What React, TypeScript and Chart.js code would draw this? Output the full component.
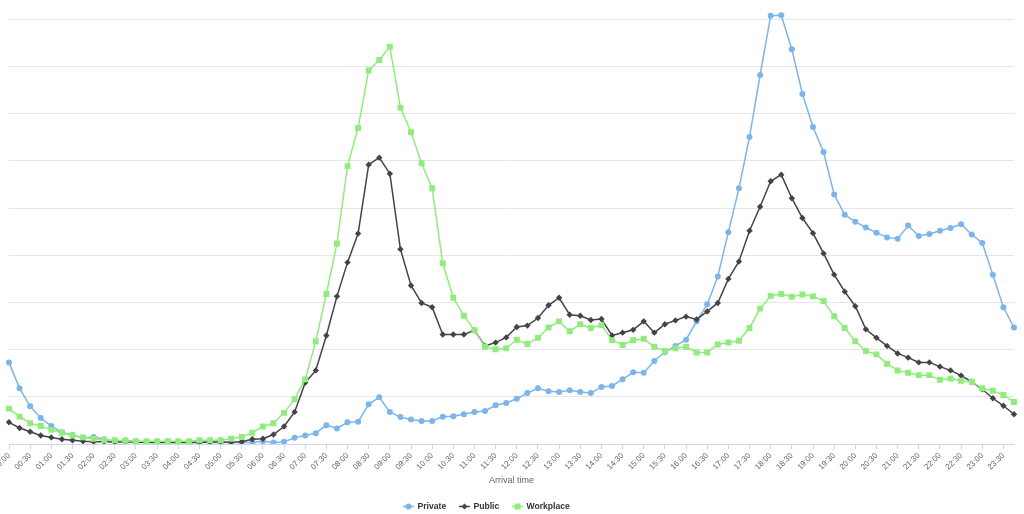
import React, { useEffect, useRef } from 'react';
import { Chart, registerables } from 'chart.js';

Chart.register(...registerables);

const categories = [
  '00:00', '00:15', '00:30', '00:45', '01:00', '01:15', '01:30', '01:45',
  '02:00', '02:15', '02:30', '02:45', '03:00', '03:15', '03:30', '03:45',
  '04:00', '04:15', '04:30', '04:45', '05:00', '05:15', '05:30', '05:45',
  '06:00', '06:15', '06:30', '06:45', '07:00', '07:15', '07:30', '07:45',
  '08:00', '08:15', '08:30', '08:45', '09:00', '09:15', '09:30', '09:45',
  '10:00', '10:15', '10:30', '10:45', '11:00', '11:15', '11:30', '11:45',
  '12:00', '12:15', '12:30', '12:45', '13:00', '13:15', '13:30', '13:45',
  '14:00', '14:15', '14:30', '14:45', '15:00', '15:15', '15:30', '15:45',
  '16:00', '16:15', '16:30', '16:45', '17:00', '17:15', '17:30', '17:45',
  '18:00', '18:15', '18:30', '18:45', '19:00', '19:15', '19:30', '19:45',
  '20:00', '20:15', '20:30', '20:45', '21:00', '21:15', '21:30', '21:45',
  '22:00', '22:15', '22:30', '22:45', '23:00', '23:15', '23:30', '23:45',
];

const privateValues = [
  0.865, 0.59, 0.40, 0.275, 0.19, 0.125, 0.095, 0.065, 0.075, 0.05,
  0.03, 0.04, 0.025, 0.02, 0.02, 0.02, 0.02, 0.02, 0.02, 0.015,
  0.015, 0.015, 0.015, 0.015, 0.03, 0.015, 0.025, 0.065, 0.09, 0.115,
  0.20, 0.165, 0.23, 0.235, 0.42, 0.495, 0.34, 0.285, 0.26, 0.245,
  0.245, 0.29, 0.295, 0.315, 0.34, 0.35, 0.41, 0.435, 0.48, 0.54,
  0.59, 0.56, 0.55, 0.57, 0.55, 0.54, 0.605, 0.615, 0.685, 0.76,
  0.755, 0.88, 0.975, 1.04, 1.105, 1.30, 1.48, 1.775, 2.245, 2.71,
  3.255, 3.91, 4.54, 4.545, 4.185, 3.71, 3.36, 3.095, 2.645, 2.43,
  2.355, 2.295, 2.24, 2.19, 2.175, 2.315, 2.205, 2.225, 2.26, 2.29,
  2.33, 2.22, 2.13, 1.795, 1.45, 1.235,
];

const publicValues = [
  0.23, 0.17, 0.13, 0.09, 0.07, 0.05, 0.04, 0.03, 0.025, 0.025,
  0.02, 0.02, 0.02, 0.015, 0.015, 0.015, 0.015, 0.015, 0.015, 0.02,
  0.02, 0.02, 0.025, 0.05, 0.055, 0.10, 0.185, 0.34, 0.65, 0.78,
  1.15, 1.565, 1.925, 2.23, 2.96, 3.035, 2.865, 2.065, 1.68, 1.495,
  1.45, 1.16, 1.16, 1.16, 1.205, 1.04, 1.075, 1.13, 1.24, 1.255,
  1.335, 1.47, 1.55, 1.37, 1.36, 1.315, 1.325, 1.15, 1.18, 1.21,
  1.30, 1.18, 1.27, 1.31, 1.35, 1.32, 1.405, 1.495, 1.75, 1.935,
  2.26, 2.515, 2.785, 2.855, 2.605, 2.395, 2.235, 2.02, 1.795, 1.615,
  1.46, 1.215, 1.125, 1.04, 0.96, 0.915, 0.865, 0.865, 0.82, 0.78,
  0.725, 0.66, 0.58, 0.485, 0.405, 0.315,
];

const workplaceValues = [
  0.375, 0.29, 0.22, 0.19, 0.15, 0.12, 0.09, 0.07, 0.055, 0.04,
  0.04, 0.035, 0.03, 0.03, 0.03, 0.03, 0.03, 0.03, 0.04, 0.04,
  0.04, 0.055, 0.075, 0.12, 0.185, 0.22, 0.33, 0.475, 0.685, 1.09,
  1.59, 2.125, 2.945, 3.35, 3.96, 4.07, 4.21, 3.565, 3.305, 2.975,
  2.71, 1.915, 1.55, 1.36, 1.205, 1.03, 1.005, 1.015, 1.105, 1.06,
  1.125, 1.235, 1.30, 1.195, 1.27, 1.23, 1.26, 1.10, 1.05, 1.10,
  1.115, 1.03, 0.985, 1.015, 1.03, 0.97, 0.97, 1.055, 1.075, 1.095,
  1.23, 1.435, 1.57, 1.59, 1.56, 1.585, 1.565, 1.515, 1.355, 1.23,
  1.09, 0.985, 0.95, 0.85, 0.78, 0.755, 0.73, 0.73, 0.68, 0.695,
  0.67, 0.66, 0.59, 0.565, 0.52, 0.445,
];

const seriesNames = ['Private', 'Public', 'Workplace'];
const seriesColors = ['#7cb5ec', '#434348', '#90ed7d'];
const seriesSymbols = ['circle', 'rectRot', 'rect'];
const axisTitle = 'Arrival time';
const yMin = 0;
const yMax = 4.6;
const yStep = 0.5;

const FONT = '"Liberation Sans", Arial, Helvetica, sans-serif';

function drawSymbol(ctx: CanvasRenderingContext2D, kind: string, x: number, y: number, color: string) {
  ctx.fillStyle = color;
  ctx.beginPath();
  if (kind === 'circle') {
    ctx.arc(x, y, 3, 0, Math.PI * 2);
  } else if (kind === 'rectRot') {
    ctx.moveTo(x - 3, y);
    ctx.lineTo(x, y - 3);
    ctx.lineTo(x + 3, y);
    ctx.lineTo(x, y + 3);
    ctx.closePath();
  } else {
    ctx.rect(x - 3, y - 3, 6, 6);
  }
  ctx.fill();
}

const legendPlugin = {
  id: 'hcLegend',
  afterDraw(chart: any) {
    const ctx: CanvasRenderingContext2D = chart.ctx;
    const y = 506.5;
    const xs = [403, 459, 512];
    ctx.save();
    ctx.font = `bold 8.6px ${FONT}`;
    ctx.textBaseline = 'middle';
    ctx.textAlign = 'left';
    seriesNames.forEach((name, i) => {
      const x = xs[i];
      ctx.strokeStyle = seriesColors[i];
      ctx.lineWidth = 1.5;
      ctx.beginPath();
      ctx.moveTo(x, y);
      ctx.lineTo(x + 11, y);
      ctx.stroke();
      drawSymbol(ctx, seriesSymbols[i], x + 5.5, y, seriesColors[i]);
      ctx.fillStyle = '#333333';
      ctx.fillText(name, x + 14.5, y + 0.5);
    });
    ctx.restore();
  },
};

export default function App() {
  const canvasRef = useRef<HTMLCanvasElement | null>(null);

  useEffect(() => {
    if (!canvasRef.current) return;
    const valuesList = [privateValues, publicValues, workplaceValues];
    const radii = [3, 3.2, 4.2];
    const chart = new Chart(canvasRef.current, {
      type: 'line',
      data: {
        labels: categories,
        datasets: seriesNames.map((name, i) => ({
          label: name,
          data: valuesList[i],
          borderColor: seriesColors[i],
          backgroundColor: seriesColors[i],
          borderWidth: 1.5,
          pointStyle: seriesSymbols[i] as any,
          pointRadius: radii[i],
          pointBackgroundColor: seriesColors[i],
          pointBorderColor: seriesColors[i],
          pointBorderWidth: 0,
          tension: 0,
          fill: false,
          order: 3 - i,
        })),
      },
      options: {
        responsive: false,
        animation: false,
        devicePixelRatio: 1,
        layout: { padding: { top: 10, left: 9, right: 10, bottom: 27 } },
        plugins: {
          legend: { display: false },
          tooltip: { enabled: false },
          title: { display: false },
        },
        scales: {
          x: {
            type: 'category',
            offset: false,
            grid: {
              display: true,
              drawOnChartArea: false,
              drawTicks: true,
              tickLength: 5,
              tickColor: (ctx: any) => (ctx.index % 2 === 0 ? '#ccd6eb' : 'rgba(0,0,0,0)'),
            },
            border: { display: true, color: '#ccd6eb', width: 1 },
            ticks: {
              autoSkip: false,
              minRotation: 45,
              maxRotation: 45,
              padding: 2,
              color: '#666666',
              font: { size: 8, family: FONT },
              callback: (_v: any, index: number) => (index % 2 === 0 ? categories[index] : ''),
            },
            title: {
              display: true,
              text: axisTitle,
              color: '#666666',
              font: { size: 9, family: FONT },
              padding: { top: 0, bottom: 1 },
            },
            afterFit: (scale: any) => {
              scale.height = 43;
              scale.paddingLeft = 0;
              scale.paddingRight = 0;
            },
          },
          y: {
            min: yMin,
            max: yMax,
            grid: {
              drawTicks: false,
              color: (ctx: any) => (ctx.tick && ctx.tick.value === 0 ? 'rgba(0,0,0,0)' : '#e6e6e6'),
              lineWidth: 1,
            },
            border: { display: false },
            ticks: { display: false, stepSize: yStep, includeBounds: false },
            afterFit: (scale: any) => {
              scale.width = 0;
            },
          },
        },
      },
      plugins: [legendPlugin],
    } as any);
    return () => chart.destroy();
  }, []);

  return (
    <div style={{ position: 'absolute', left: 0, top: 0, width: 1024, height: 514, background: '#ffffff' }}>
      <canvas ref={canvasRef} width={1024} height={514} style={{ display: 'block' }} />
    </div>
  );
}
